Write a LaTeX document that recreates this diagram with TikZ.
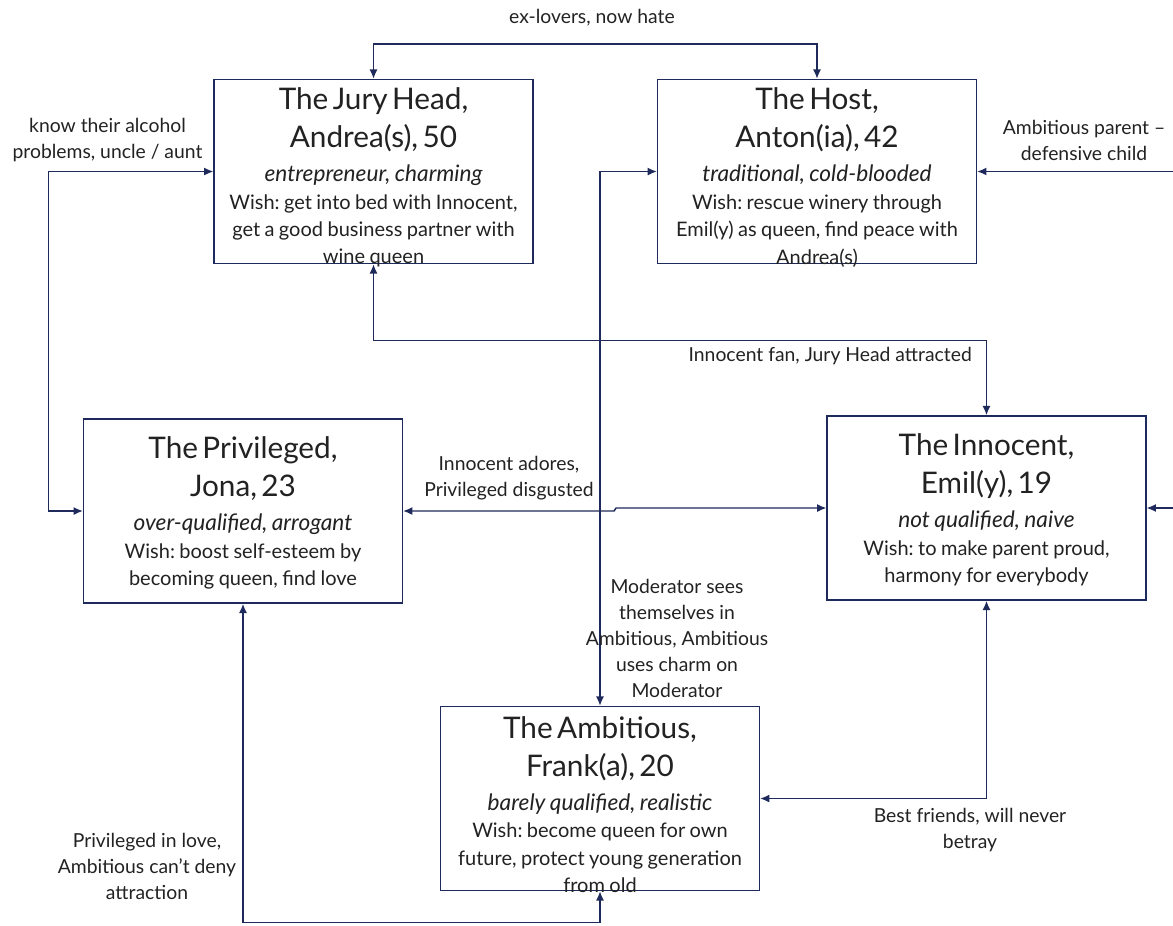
\documentclass[tikz,border=0pt]{standalone}
\usepackage{fontspec}
\setmainfont{Lato}
\usetikzlibrary{arrows.meta}
\definecolor{navy}{HTML}{1F2A5C}
\definecolor{ink}{HTML}{222222}
\newcommand{\ttl}{\fontsize{22.3}{28.5}\selectfont}
\newcommand{\itl}{\fontsize{17}{25.5}\selectfont\itshape}
\newcommand{\bdy}{\fontsize{15}{20.6}\selectfont}
\newcommand{\lbl}{\fontsize{14.5}{19.5}\selectfont}
\tikzset{
  box/.style={draw=navy, line width=1.1pt, rectangle, inner sep=0pt,
    minimum width=239pt, text width=239pt, minimum height=138pt,
    align=center, text=ink},
  link/.style={draw=navy, line width=1.1pt,
    {Latex[length=7pt,width=6pt]}-{Latex[length=7pt,width=6pt]}},
  tag/.style={inner sep=0pt, align=center, text=ink, font=\lbl}
}
\begin{document}
\frenchspacing
\begin{tikzpicture}[x=0.75pt,y=-0.75pt]
\useasboundingbox (0,0) rectangle (1173,925);
\fill[white] (0,0) rectangle (1173,925);

\node[box] (jury) at (373.5,171.5) {{\ttl The Jury Head,\\Andrea(s), 50\par}{\itl entrepreneur, charming\par}{\bdy Wish: get into bed with Innocent,\\get a good business partner with\\wine queen\par}\vspace{-9pt}};
\node[box] (host) at (817,171.5) {{\ttl The Host,\\Anton(ia), 42\par}{\itl traditional, cold-blooded\par}{\bdy Wish: rescue winery through\\Emil(y) as queen, find peace with\\Andrea(s)\par}\vspace{-9pt}};
\node[box] (priv) at (243,511) {{\ttl The Privileged,\\Jona, 23\par}{\itl over-qualified, arrogant\par}{\bdy Wish: boost self-esteem by\\becoming queen, find love\par}\vspace{-3pt}};
\node[box] (inno) at (986.5,508) {{\ttl The Innocent,\\Emil(y), 19\par}{\itl not qualified, naive\par}{\bdy Wish: to make parent proud,\\harmony for everybody\par}\vspace{-3pt}};
\node[box] (amb) at (600,798.5) {{\ttl The Ambitious,\\Frank(a), 20\par}{\itl barely qualified, realistic\par}{\bdy Wish: become queen for own\\future, protect young generation\\from old\par}\vspace{-9pt}};

\draw[link] (jury.north) -- ++(0,-35) -| (host.north);
\draw[link] (jury.west) -- ++(-165,0) |- (priv.west);
\draw[link] (host.east) -- ++(220,0) |- (inno.east);
\draw[link] (jury.south) -- ++(0,76) -| (inno.north);
\draw[link] (host.west) -| (amb.north);
\draw[link] (priv.east) -- ++(211,0) -- ++(2,-3) -- (inno.west);
\draw[link] (amb.east) -| (inno.south);
\draw[link] (priv.south) -- ++(0,319) -| (amb.south);

\node[tag] (t1) at (592,18) {ex-lovers, now hate};
\node[tag] (t2) at (107.5,140) {know their alcohol\\problems, uncle / aunt};
\node[tag] (t3) at (1084,140) {Ambitious parent --\\defensive child};
\node[tag, anchor=east] (t4) at (972,356) {Innocent fan, Jury Head attracted};
\node[tag] (t5) at (509,478) {Innocent adores,\\Privileged disgusted};
\node[tag] (t6) at (677,638) {Moderator sees\\themselves in\\Ambitious, Ambitious\\uses charm on\\Moderator};
\node[tag] (t7) at (970,830) {Best friends, will never\\betray};
\node[tag] (t8) at (147,866) {Privileged in love,\\Ambitious can't deny\\attraction};
\end{tikzpicture}
\end{document}
